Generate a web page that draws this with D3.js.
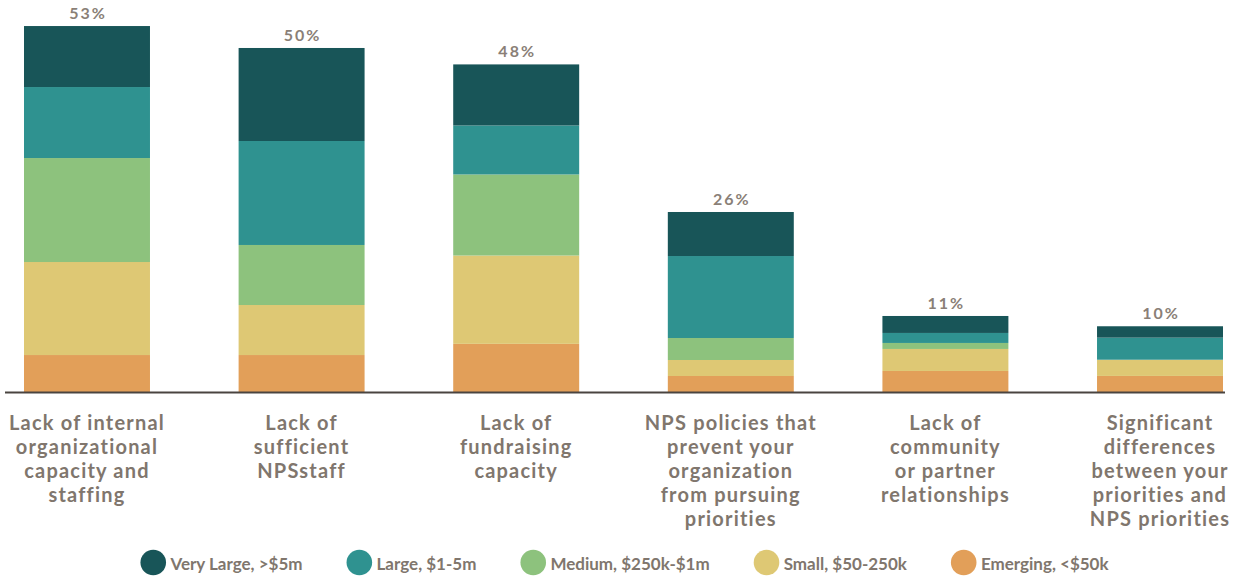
<!DOCTYPE html>
<html>
<head>
<meta charset="utf-8">
<script src="https://cdn.jsdelivr.net/npm/d3@7"></script>
<style>
  html, body { margin: 0; padding: 0; background: #fff; }
  svg { display: block; }
</style>
</head>
<body>
<svg id="chart" width="1238" height="576"></svg>
<script>
// Barriers reported, stacked by organization budget size (% of respondents)
const categories = [
  ["Lack of internal", "organizational", "capacity and", "staffing"],
  ["Lack of", "sufficient", "NPSstaff"],
  ["Lack of", "fundraising", "capacity"],
  ["NPS policies that", "prevent your", "organization", "from pursuing", "priorities"],
  ["Lack of", "community", "or partner", "relationships"],
  ["Significant", "differences", "between your", "priorities and", "NPS priorities"]
];
const seriesNames = ["Emerging, <$50k", "Small, $50-250k", "Medium, $250k-$1m", "Large, $1-5m", "Very Large, >$5m"];
const emerging  = [5.43, 5.43, 7.05, 2.39, 3.12, 2.40];
const small     = [13.48, 7.25, 12.80, 2.32, 3.19, 2.35];
const medium    = [15.07, 8.70, 11.75, 3.19, 0.87, 0.00];
const large     = [10.29, 15.07, 7.10, 11.88, 1.45, 3.20];
const veryLarge = [8.84, 13.48, 8.85, 6.38, 2.46, 1.65];
const totalLabels = ["53%", "50%", "48%", "26%", "11%", "10%"];
const legendOrder = ["Very Large, >$5m", "Large, $1-5m", "Medium, $250k-$1m", "Small, $50-250k", "Emerging, <$50k"];
const colors = {
  "Very Large, >$5m": "#185558",
  "Large, $1-5m": "#2f9290",
  "Medium, $250k-$1m": "#8dc27d",
  "Small, $50-250k": "#dec874",
  "Emerging, <$50k": "#e29f59"
};

const textColor = "#80766d";
const fontFamily = "Lato, 'Open Sans', sans-serif";

const rows = categories.map((c, i) => ({
  idx: i,
  "Emerging, <$50k": emerging[i],
  "Small, $50-250k": small[i],
  "Medium, $250k-$1m": medium[i],
  "Large, $1-5m": large[i],
  "Very Large, >$5m": veryLarge[i]
}));

const svg = d3.select("#chart");
const baseY = 392.5;

const x = d3.scaleBand()
  .domain(d3.range(categories.length))
  .range([24, 1223])
  .paddingInner(0.413)
  .paddingOuter(0);

const y = d3.scaleLinear()
  .domain([0, 55])
  .range([baseY, baseY - 55 * 6.9]);

const stack = d3.stack().keys(seriesNames);
const layers = stack(rows);

svg.append("g")
  .selectAll("g")
  .data(layers)
  .join("g")
    .attr("fill", d => colors[d.key])
  .selectAll("rect")
  .data(d => d)
  .join("rect")
    .attr("x", d => x(d.data.idx))
    .attr("width", x.bandwidth())
    .attr("y", d => y(d[1]))
    .attr("height", d => y(d[0]) - y(d[1]));

// Baseline
svg.append("line")
  .attr("x1", 5).attr("x2", 1225)
  .attr("y1", baseY).attr("y2", baseY)
  .attr("stroke", "#4a4440")
  .attr("stroke-width", 2);

// Totals above each bar
const totals = rows.map(r => d3.sum(seriesNames, k => r[k]));
svg.append("g")
  .selectAll("text")
  .data(totals)
  .join("text")
    .attr("x", (d, i) => x(i) + x.bandwidth() / 2 + 1)
    .attr("y", d => y(d) - 7)
    .attr("text-anchor", "middle")
    .attr("font-family", fontFamily)
    .attr("font-weight", 700)
    .attr("font-size", 16)
    .attr("letter-spacing", 2)
    .attr("fill", "#8a7f77")
    .text((d, i) => totalLabels[i]);

// Category labels, one tspan per line
const catG = svg.append("g")
  .selectAll("text")
  .data(categories)
  .join("text")
    .attr("x", (d, i) => x(i) + x.bandwidth() / 2)
    .attr("y", 430)
    .attr("text-anchor", "middle")
    .attr("font-family", fontFamily)
    .attr("font-weight", 700)
    .attr("font-size", 20)
    .attr("letter-spacing", 1.2)
    .attr("fill", textColor);
catG.selectAll("tspan")
  .data(d => d)
  .join("tspan")
    .attr("x", function() { return this.parentNode.getAttribute("x"); })
    .attr("dy", (d, i) => i === 0 ? 0 : 24)
    .text(d => d);

// Legend
const legend = svg.append("g");
const items = legend.selectAll("g")
  .data(legendOrder)
  .join("g");
items.append("circle")
  .attr("r", 12.8)
  .attr("cx", 12.8)
  .attr("cy", 562.5)
  .attr("fill", d => colors[d]);
items.append("text")
  .attr("x", 30)
  .attr("y", 569.5)
  .attr("font-family", fontFamily)
  .attr("font-weight", 700)
  .attr("font-size", 17)
  .attr("fill", textColor)
  .text(d => d);

const gap = 44;
const widths = items.nodes().map(n =>
  30 + d3.select(n).select("text").node().getComputedTextLength());
const totalW = d3.sum(widths) + gap * (widths.length - 1);
let cursor = 624.5 - totalW / 2;
items.each(function(d, i) {
  d3.select(this).attr("transform", `translate(${cursor},0)`);
  cursor += widths[i] + gap;
});
</script>
</body>
</html>
